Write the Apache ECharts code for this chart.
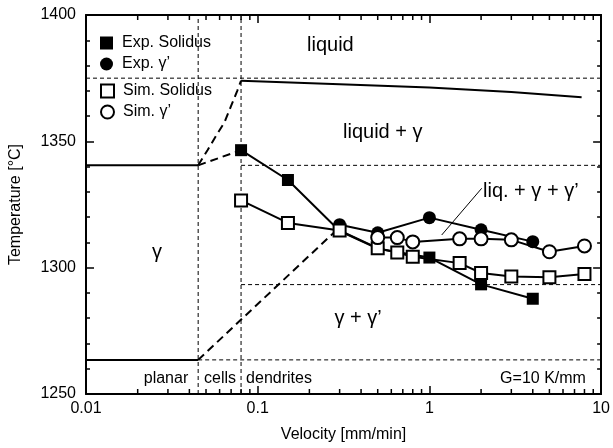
<!DOCTYPE html>
<html><head><meta charset="utf-8">
<script src="https://cdn.jsdelivr.net/npm/echarts@6/dist/echarts.min.js"></script>
<style>html,body{margin:0;padding:0;background:#fff}#c{width:613px;height:448px}</style>
</head><body><div id="c"></div>
<script>
// ---- data ----
const expSolidusV = [0.08, 0.15, 0.3, 0.5, 1, 2, 4];
const expSolidusT = [1346.5, 1334.7, 1314.5, 1307.5, 1304, 1293.4, 1287.7];
const expGammaPrimeV = [0.3, 0.5, 1, 2, 4];
const expGammaPrimeT = [1317, 1313.8, 1319.8, 1315, 1310.3];
const simSolidusV = [0.08, 0.15, 0.3, 0.5, 0.65, 0.8, 1.5, 2, 3, 5, 8];
const simSolidusT = [1326.6, 1317.7, 1314.7, 1307.7, 1306, 1304.3, 1301.8, 1297.9, 1296.5, 1296.2, 1297.5];
const simGammaPrimeV = [0.5, 0.65, 0.8, 1.5, 2, 3, 5, 8];
const simGammaPrimeT = [1311.9, 1311.9, 1310.2, 1311.4, 1311.4, 1311, 1306.3, 1308.6];
// phase boundaries
const liquidusV = [0.08, 0.3, 1, 3, 7.7];
const liquidusT = [1374, 1372.6, 1371.3, 1369.5, 1367.4];
const cellLiquidusV = [0.045, 0.051, 0.057, 0.064, 0.07, 0.076, 0.08];
const cellLiquidusT = [1340.5, 1346.5, 1352, 1357.5, 1364, 1370, 1374];
const cellSolidusV = [0.045, 0.08];
const cellSolidusT = [1340.5, 1346.5];
const cellGammaPrimeV = [0.045, 0.3];
const cellGammaPrimeT = [1263.5, 1316];
const planarSolidusV = [0.01, 0.045];
const planarSolidusT = [1340.5, 1340.5];
const planarGammaPrimeV = [0.01, 0.045];
const planarGammaPrimeT = [1263.5, 1263.5];
// guide lines
const hGuideT = [1375, 1340.5, 1293.3, 1263.5];
const hGuideStartV = [0.01, 0.08, 0.08, 0.045];
const vGuideV = [0.045, 0.08];
// axes
const xMin = 0.01, xMax = 10, yMin = 1250, yMax = 1400;
const minorTickV = [0.02,0.03,0.04,0.05,0.06,0.07,0.08,0.09,0.2,0.3,0.4,0.5,0.6,0.7,0.8,0.9,2,3,4,5,6,7,8,9];

const zip = (a, b) => a.map((x, i) => [x, b[i]]);
const FONT = '"Liberation Sans", Arial, sans-serif';

const solid = { color: '#000', width: 2, type: 'solid' };
const thickDash = { color: '#000', width: 2, type: [8, 5] };
const thinDash = { color: '#000', width: 1, type: [4, 3] };

function boundary(data, ls) {
  return { type: 'line', data, symbol: 'none', lineStyle: ls, silent: true, z: 1, clip: false };
}

const series = [];
hGuideT.forEach((t, i) => series.push(boundary([[hGuideStartV[i], t], [xMax, t]], thinDash)));
vGuideV.forEach(v => series.push(boundary([[v, yMin], [v, yMax]], thinDash)));
series.push(boundary(zip(planarSolidusV, planarSolidusT), solid));
series.push(boundary(zip(planarGammaPrimeV, planarGammaPrimeT), solid));
series.push(boundary(zip(cellLiquidusV, cellLiquidusT), thickDash));
series.push(boundary(zip(cellSolidusV, cellSolidusT), thickDash));
series.push(boundary(zip(cellGammaPrimeV, cellGammaPrimeT), thickDash));
series.push(boundary(zip(liquidusV, liquidusT), solid));

series.push({ name: 'Exp. Solidus', type: 'line', data: zip(expSolidusV, expSolidusT), symbol: 'rect', symbolSize: 12,
  itemStyle: { color: '#000' }, lineStyle: { color: '#000', width: 2 }, z: 3 });
series.push({ name: 'Exp. \u03b3\u2019', type: 'line', data: zip(expGammaPrimeV, expGammaPrimeT), symbol: 'circle', symbolSize: 13,
  itemStyle: { color: '#000' }, lineStyle: { color: '#000', width: 2 }, z: 3 });
series.push({ name: 'Sim. Solidus', type: 'line', data: zip(simSolidusV, simSolidusT), symbol: 'rect', symbolSize: 12,
  itemStyle: { color: '#fff', borderColor: '#000', borderWidth: 2 }, lineStyle: { color: '#000', width: 2 }, z: 4 });
series.push({ name: 'Sim. \u03b3\u2019', type: 'line', data: zip(simGammaPrimeV, simGammaPrimeT), symbol: 'circle', symbolSize: 13,
  itemStyle: { color: '#fff', borderColor: '#000', borderWidth: 2 }, lineStyle: { color: '#000', width: 2 }, z: 4 });

series.push({ type: 'custom', silent: true, clip: false, z: 5,
  data: minorTickV.map(v => [v, yMin]),
  encode: { x: 0, y: 1 },
  renderItem: function (params, api) {
    const v = api.value(0);
    const b = api.coord([v, yMin]);
    const t = api.coord([v, yMax]);
    return { type: 'group', children: [
      { type: 'line', shape: { x1: b[0], y1: b[1], x2: b[0], y2: b[1] - 5 }, style: { stroke: '#000', lineWidth: 1.5 } },
      { type: 'line', shape: { x1: t[0], y1: t[1], x2: t[0], y2: t[1] + 5 }, style: { stroke: '#000', lineWidth: 1.5 } }
    ] };
  }
});

const axisLine = { show: true, lineStyle: { color: '#000', width: 2 } };
const tick = { show: true, inside: true, length: 8, lineStyle: { color: '#000', width: 1.5 } };
const minor = { show: true, splitNumber: 5, length: 4, lineStyle: { color: '#000', width: 1.5 } };

const legendBase = { orient: 'vertical', left: 100, padding: 0, itemWidth: 13, itemHeight: 13, itemGap: 5,
  selectedMode: false, textStyle: { fontSize: 16, color: '#000', fontFamily: FONT, padding: [0, 0, 0, 4] } };

const gText = (text, x, y, size, align) => ({ type: 'text', x, y, z: 10,
  style: { text, fill: '#000', font: size + 'px ' + FONT, textAlign: align || 'center', textVerticalAlign: 'middle' } });

const option = {
  animation: false,
  backgroundColor: '#fff',
  grid: { left: 84, right: 10, top: 15, bottom: 50 },
  legend: [
    Object.assign({}, legendBase, { top: 35, data: [{ name: 'Exp. Solidus', icon: 'rect' }, { name: 'Exp. \u03b3\u2019', icon: 'circle' }] }),
    Object.assign({}, legendBase, { top: 83, data: [{ name: 'Sim. Solidus', icon: 'rect' }, { name: 'Sim. \u03b3\u2019', icon: 'circle' }] })
  ],
  xAxis: [
    { type: 'log', logBase: 10, min: xMin, max: xMax, position: 'bottom', axisLine, axisTick: tick, splitLine: { show: false },
      axisLabel: { fontSize: 16, color: '#000', fontFamily: FONT, margin: 7, formatter: v => String(v) },
      name: 'Velocity [mm/min]', nameLocation: 'middle', nameGap: 33,
      nameTextStyle: { fontSize: 16, color: '#000', fontFamily: FONT } },
    { type: 'log', logBase: 10, min: xMin, max: xMax, position: 'top', axisLine, axisTick: tick, splitLine: { show: false },
      axisLabel: { show: false } }
  ],
  yAxis: [
    { type: 'value', min: yMin, max: yMax, interval: 50, position: 'left', axisLine, axisTick: tick, minorTick: minor,
      splitLine: { show: false }, axisLabel: { fontSize: 16, color: '#000', fontFamily: FONT, margin: 10, formatter: v => String(v) },
      name: 'Temperature [\u00b0C]', nameLocation: 'middle', nameGap: 62,
      nameTextStyle: { fontSize: 16, color: '#000', fontFamily: FONT } },
    { type: 'value', min: yMin, max: yMax, interval: 50, position: 'right', axisLine, axisTick: tick, minorTick: minor,
      splitLine: { show: false }, axisLabel: { show: false } }
  ],
  series,
  graphic: [
    gText('liquid', 307, 45, 20, 'left'),
    gText('liquid + \u03b3', 343, 132, 20, 'left'),
    gText('\u03b3', 157, 252, 20),
    gText('liq. + \u03b3 + \u03b3\u2019', 483, 191, 20, 'left'),
    gText('\u03b3 + \u03b3\u2019', 358, 318, 20),
    gText('planar', 166, 379, 16),
    gText('cells', 220, 379, 16),
    gText('dendrites', 279, 379, 16),
    gText('G=10 K/mm', 543, 379, 16),
    { type: 'line', z: 10, shape: { x1: 481.7, y1: 188.3, x2: 441.7, y2: 235 }, style: { stroke: '#000', lineWidth: 1 } }
  ]
};

const chart = echarts.init(document.getElementById('c'), null, { renderer: 'canvas' });
chart.setOption(option);
</script>
</body></html>
